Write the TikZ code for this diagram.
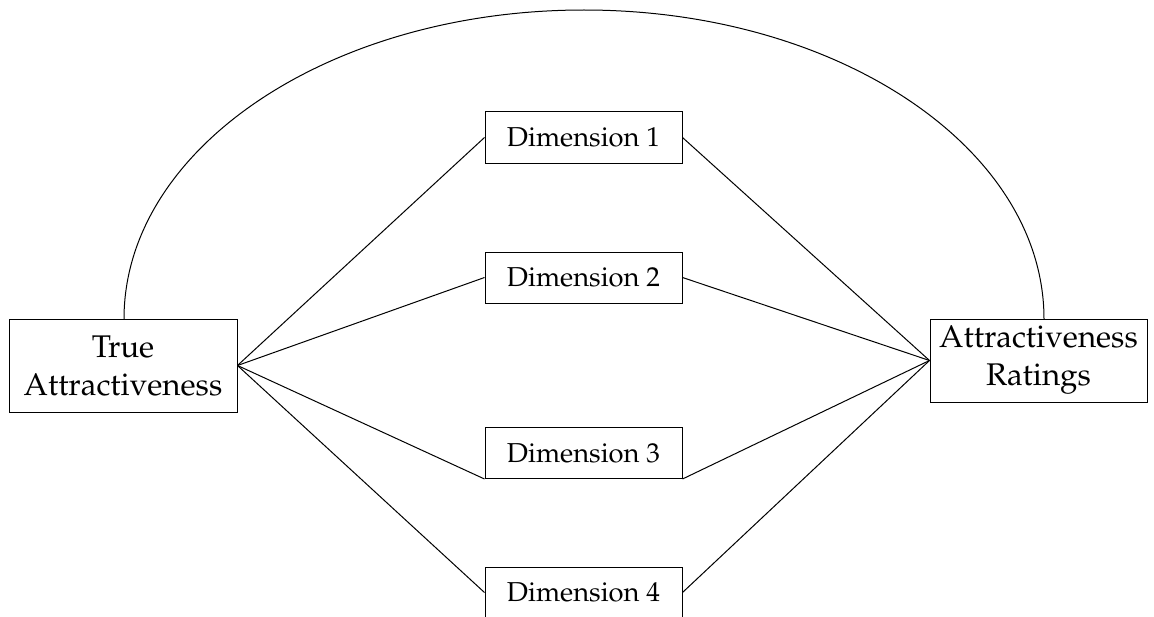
\documentclass[tikz,border=0pt]{standalone}
\usepackage[T1]{fontenc}
\usepackage{mathpazo}
\tikzset{every picture/.style={line width=0.75pt}}
\tikzset{
	dimbox/.style={draw, rectangle, inner sep=0pt, minimum width=147.75pt, minimum height=38.25pt, font=\fontsize{20.5}{22}\selectfont},
	bigbox/.style={draw, rectangle, inner sep=0pt, align=center, font=\fontsize{23.5}{28.5}\selectfont}}

\begin{document}
\begin{tikzpicture}[x=0.75pt,y=0.75pt,yscale=-1,xscale=1]
	%set diagram to the reference frame
	\useasboundingbox (0,0) rectangle (1154,617);

	% Text Node
	\node [bigbox, minimum width=171pt, minimum height=69.75pt] (tatt) at (123,365.5) {True\\Attractiveness};
	% Text Node
	\node [bigbox, minimum width=162.75pt, minimum height=62.25pt] (ratt) at (1038.5,360.5) {Attractiveness\\Ratings};
	% Text Node
	\node [dimbox] (dimA) at (583.5,137.5) {Dimension 1};
	% Text Node
	\node [dimbox] (dimB) at (583.5,277.5) {Dimension 2};
	% Text Node
	\node [dimbox] (dimC) at (583.5,453) {Dimension 3};
	% Text Node
	\node [dimbox] (dimD) at (583.5,592.5) {Dimension 4};

	%Curve Lines
	\coordinate (footL) at (124,319);
	\draw (footL) arc [start angle=180, end angle=360, x radius=460, y radius=309] coordinate (footR);

	%Straight Lines
	\draw (tatt.east) -- (dimA.west) (dimA.east) -- (ratt.west);
	\draw (tatt.east) -- (dimB.west) (dimB.east) -- (ratt.west);
	\draw (tatt.east) -- (dimC.south west) (dimC.south east) -- (ratt.west);
	\draw (tatt.east) -- (dimD.west) (dimD.east) -- (ratt.west);

\end{tikzpicture}
\end{document}
